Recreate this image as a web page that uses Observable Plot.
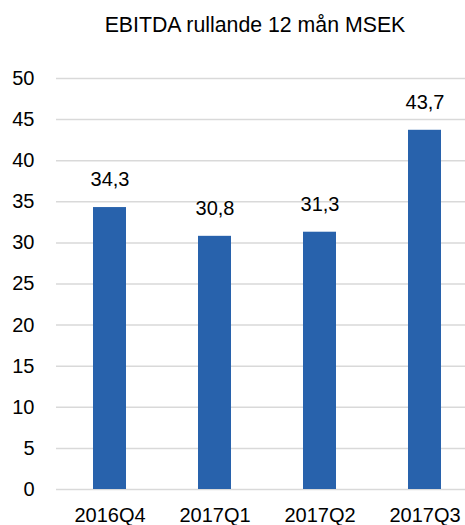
<!DOCTYPE html>
<html><head><meta charset="utf-8">
<script src="https://cdn.jsdelivr.net/npm/d3@7"></script>
<script src="https://cdn.jsdelivr.net/npm/@observablehq/plot@0.6"></script>
<style>
body{margin:0;background:#fff;font-family:"Liberation Sans",Arial,Helvetica,sans-serif;}
#title{height:50px;line-height:50px;text-align:center;padding-left:45px;font-size:21.3px;color:#000;white-space:nowrap;}
#chart svg{display:block;}
</style>
</head><body>
<div id="title">EBITDA rullande 12 mån MSEK</div>
<div id="chart"></div>
<script>
const categories = ["2016Q4","2017Q1","2017Q2","2017Q3"];
const values = [34.3, 30.8, 31.3, 43.7];
const yTicks = [0,5,10,15,20,25,30,35,40,45,50];

const data = categories.map((c,i)=>({q:c, v:values[i]}));
const fmt = v => d3.format(".1f")(v).replace(".", ",");

const chart = Plot.plot({
  width: 465,
  height: 475,
  marginLeft: 56,
  marginRight: 0,
  marginTop: 28,
  marginBottom: 36,
  style: {fontFamily: '"Liberation Sans", Arial, Helvetica, sans-serif', fontSize: "20px", color: "#000", background: "#fff"},
  x: {domain: categories, range: [56, 477], paddingInner: 0.686, paddingOuter: 0.343, label: null},
  y: {domain: [0, 50], ticks: yTicks, label: null},
  marks: [
    Plot.ruleY(yTicks, {stroke: "#d9d9d9", strokeWidth: 1.5}),
    Plot.barY(data, {x: "q", y: "v", fill: "#2862ac"}),
    Plot.text(data, {x: "q", y: "v", text: d => fmt(d.v), dy: -27.5, fontSize: 20, fill: "#000"}),
    Plot.axisY({ticks: yTicks, tickSize: 0, tickPadding: 22, fontSize: 20, label: null}),
    Plot.axisX({tickSize: 0, tickPadding: 18, fontSize: 20, label: null})
  ]
});
document.getElementById("chart").appendChild(chart);
</script>
</body></html>
